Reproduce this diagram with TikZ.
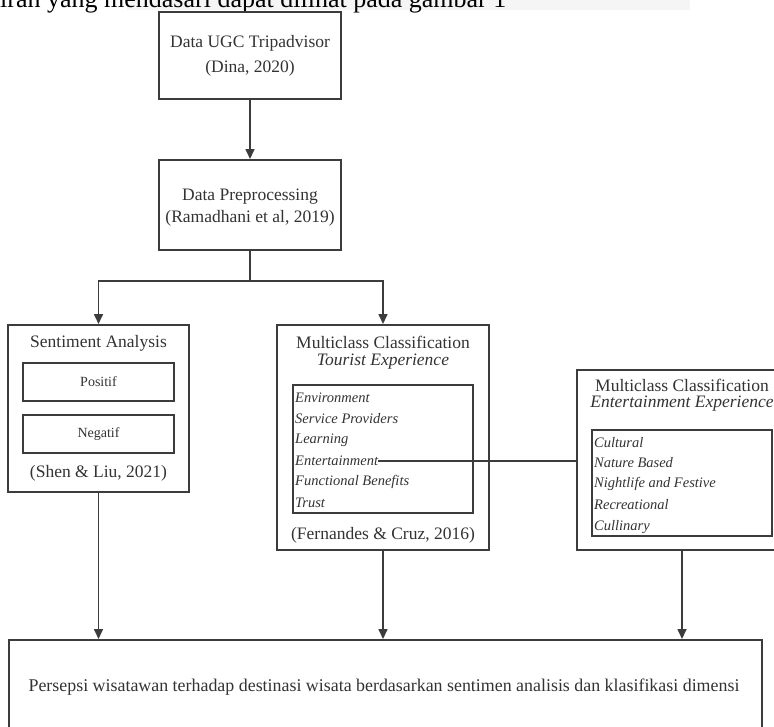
\documentclass[tikz,border=0pt]{standalone}
\usepackage{fontspec}
\setmainfont{Liberation Serif}
\usetikzlibrary{arrows.meta}
\definecolor{ln}{HTML}{3C3C3C}
\definecolor{tx}{HTML}{333333}
\tikzset{
  box/.style={draw=ln, line width=2pt, rectangle, inner sep=0pt},
  ibox/.style={draw=ln, line width=1.4pt, rectangle, inner sep=0pt},
  lbl/.style={text=tx, font=\fontsize{17.5}{21}\selectfont, inner sep=0pt},
  slbl/.style={text=tx, font=\fontsize{14}{17}\selectfont, inner sep=0pt},
  ilbl/.style={text=tx, font=\fontsize{17.5}{21}\selectfont\itshape, inner sep=0pt},
  itm/.style={text=tx, font=\fontsize{14.5}{17}\selectfont\itshape, inner sep=0pt, anchor=west},
  arr/.style={draw=ln, line width=1.6pt, -{Triangle[length=10pt,width=9pt]}},
  con/.style={draw=ln, line width=1.6pt},
}
\begin{document}
\begin{tikzpicture}[x=1pt,y=-1pt]
\useasboundingbox (0,0) rectangle (774,726);
\clip (0,0) rectangle (774,726);
\fill[white] (0,0) rectangle (774,726);
\fill[black!4] (127,0) rectangle (690,10);
\node[anchor=base west, inner sep=0pt, font=\fontsize{26}{30}\selectfont] (intro) at (0,7) {iran yang mendasari dapat dilihat pada gambar 1};

% Box 1
\node[box, minimum width=182pt, minimum height=87pt] (ugc) at (250,55.5) {};
\node[lbl] (ugc1) at (250,43) {Data UGC Tripadvisor};
\node[lbl] (ugc2) at (250,68) {(Dina, 2020)};

% Box 2
\node[box, minimum width=182pt, minimum height=90pt] (pre) at (250,205) {};
\node[lbl] (pre1) at (250,197) {Data Preprocessing};
\node[lbl] (pre2) at (250,218) {(Ramadhani et al, 2019)};

% Sentiment box
\node[box, minimum width=181pt, minimum height=167pt] (sent) at (98.5,408.5) {};
\node[lbl] (sent1) at (98.5,343) {Sentiment Analysis};
\node[ibox, minimum width=151pt, minimum height=38pt] (pos) at (98.5,382) {};
\node[slbl] (post) at (pos.center) {Positif};
\node[ibox, minimum width=151pt, minimum height=38pt] (neg) at (98.5,434) {};
\node[slbl] (negt) at (neg.center) {Negatif};
\node[lbl] (sent2) at (98.5,473) {(Shen \& Liu, 2021)};

% Tourist box
\node[box, minimum width=212pt, minimum height=225pt] (tour) at (383,437.5) {};
\node[lbl] (tour1) at (383,342) {Multiclass Classification};
\node[ilbl] (tour2) at (383,362) {Tourist Experience};
\node[ibox, minimum width=180pt, minimum height=128pt] (tin) at (383,449) {};
\node[itm] (t1) at (295,398) {Environment};
\node[itm] (t2) at (295,419) {Service Providers};
\node[itm] (t3) at (295,440) {Learning};
\node[itm] (t4) at (295,461) {Entertainment};
\node[itm] (t5) at (295,482) {Functional Benefits};
\node[itm] (t6) at (295,503) {Trust};
\node[lbl] (tour3) at (383,535) {(Fernandes \& Cruz, 2016)};

% Entertainment box
\node[box, minimum width=210pt, minimum height=180pt] (ent) at (682,460) {};
\node[lbl] (ent1) at (682,385) {Multiclass Classification};
\node[ilbl] (ent2) at (682,404) {Entertainment Experience};
\node[ibox, minimum width=180pt, minimum height=106pt] (ein) at (682,483) {};
\node[itm] (e1) at (594,443) {Cultural};
\node[itm] (e2) at (594,463) {Nature Based};
\node[itm] (e3) at (594,484) {Nightlife and Festive};
\node[itm] (e4) at (594,505) {Recreational};
\node[itm] (e5) at (594,527) {Cullinary};

% Bottom box
\node[box, minimum width=753pt, minimum height=100pt] (res) at (385.5,690) {};
\node[lbl, font=\fontsize{17.9}{21}\selectfont] (rest) at (384,687) {Persepsi wisatawan terhadap destinasi wisata berdasarkan sentimen analisis dan klasifikasi dimensi};

% Connectors
\coordinate (split) at (250,281);
\draw[arr] (ugc.south) -- (pre.north);
\draw[con] (pre.south) -- (split);
\draw[arr] (split) -| (sent.north);
\draw[arr] (split) -| (tour.north);
\draw[con] (t4.east) -- (t4.east -| ent.west);
\draw[arr] (sent.south) -- (sent.south |- res.north);
\draw[arr] (tour.south) -- (tour.south |- res.north);
\draw[arr] (ent.south) -- (ent.south |- res.north);
\end{tikzpicture}
\end{document}
